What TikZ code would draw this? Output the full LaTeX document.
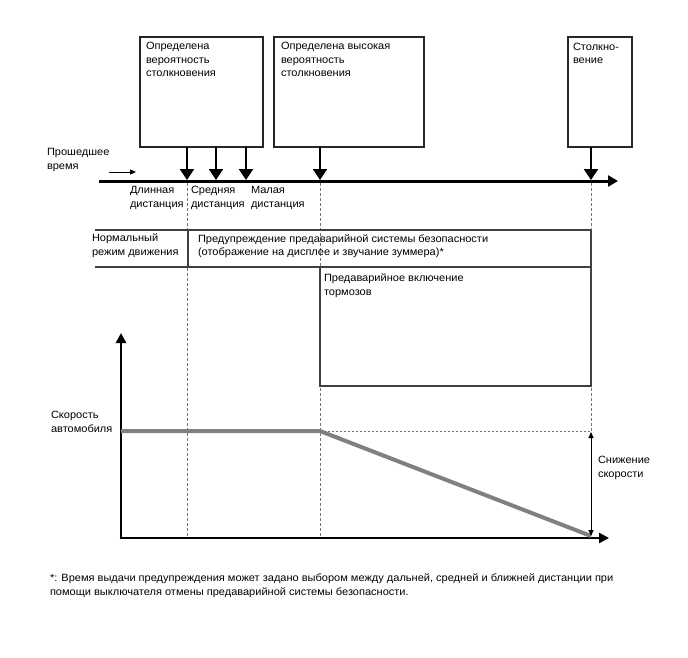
\documentclass[tikz,border=0pt]{standalone}
\usepackage{fontspec}
\setmainfont[FakeStretch=1.05]{Liberation Sans}
\usetikzlibrary{arrows.meta}
\begin{document}
\begin{tikzpicture}[x=1pt,y=-1pt,
  every node/.style={inner sep=0pt, outer sep=0pt, font=\fontsize{10.5}{13.3}\selectfont},
  txt/.style={anchor=base west, align=left},
  evbox/.style={draw=black!85, line width=1.2pt, anchor=north west},
  evarrow/.style={line width=2pt, -{Triangle[width=14pt,length=11pt]}},
  timeline/.style={line width=3pt, -{Triangle[width=11pt,length=10pt]}},
  guide/.style={draw=black!55, line width=0.7pt, dash pattern=on 3pt off 2pt},
  band/.style={draw=black!75, line width=1.2pt},
  axis/.style={line width=2.5pt, -{Triangle[width=10pt,length=10pt]}},
  speed/.style={draw=black!50, line width=4pt},
  thinarrow/.style={line width=1pt, -{Triangle[width=5pt,length=6pt]}},
  dbl/.style={line width=1pt, {Triangle[width=5pt,length=6pt]}-{Triangle[width=5pt,length=6pt]}},
]
\useasboundingbox (0,0) rectangle (688,658);

% event boxes
\node[evbox, minimum width=123pt, minimum height=110pt] (b1) at (140,37) {};
\node[evbox, minimum width=150pt, minimum height=110pt] (b2) at (274,37) {};
\node[evbox, minimum width=64pt, minimum height=110pt] (b3) at (568,37) {};
\node[txt] (b1t) at (146,76.5) {Определена\\вероятность\\столкновения};
\node[txt] (b2t) at (281,76.5) {Определена высокая\\вероятность\\столкновения};
\node[txt] (b3t) at (573,63.5) {Столкно-\\вение};

% timeline
\coordinate (tl0) at (99,181);
\coordinate (tl1) at (618,181);
\coordinate (t1) at (187,180);
\coordinate (t2) at (216,180);
\coordinate (t3) at (246,180);
\coordinate (t4) at (320,180);
\coordinate (t5) at (591,180);
\draw[timeline] (tl0) -- (tl1);
\draw[evarrow] (b1.south -| t1) -- (t1);
\draw[evarrow] (b1.south -| t2) -- (t2);
\draw[evarrow] (b1.south -| t3) -- (t3);
\draw[evarrow, fill=black!80] (b2.south -| t4) -- (t4);
\draw[evarrow] (b3.south -| t5) -- (t5);

\node[txt] (el) at (47,169) {Прошедшее\\время};
\coordinate (sa0) at (109,172);
\coordinate (sa1) at (136,172);
\draw[thinarrow] (sa0) -- (sa1);

\node[txt] (d1) at (130,207) {Длинная\\дистанция};
\node[txt] (d2) at (191,207) {Средняя\\дистанция};
\node[txt] (d3) at (251,207) {Малая\\дистанция};

% guides
\draw[guide] (187,183) -- (187,538);
\draw[guide] (320,183) -- (320,538);
\draw[guide] (591,183) -- (591,432);

% band
\draw[band] (95,230) -- (591,230);
\draw[band] (95,267) -- (591,267);
\draw[band] (188,230) -- (188,267);
\draw[band] (591,230) -- (591,386) -- (320,386) -- (320,267);
\node[txt] (nm) at (92,255) {Нормальный\\режим движения};
\node[txt] (wr) at (198,255.5) {Предупреждение предаварийной системы безопасности\\(отображение на дисплее и звучание зуммера)*};
\node[txt] (br) at (324,295) {Предаварийное включение\\тормозов};

% graph
\coordinate (o) at (121,538);
\coordinate (ytop) at (121,333);
\coordinate (xend) at (609,538);
\draw[axis] (121,539.25) -- (ytop);
\draw[axis] (119.75,538) -- (xend);
\coordinate (s0) at (121,431);
\coordinate (s1) at (320,431);
\coordinate (s2) at (591,536);
\draw[speed] (s0) -- (s1) -- (s2);
\coordinate (r1) at (591,431);
\draw[draw=black!55, line width=0.8pt, dash pattern=on 2pt off 2pt] (s1) -- (r1);
\coordinate (r0) at (591,536);
\draw[dbl] (591,432) -- (r0);
\node[txt] (sp) at (51,432) {Скорость\\автомобиля};
\node[txt] (dec) at (598,477) {Снижение\\скорости};

\node[txt] (fn) at (50,595) {*: Время выдачи предупреждения может задано выбором между дальней, средней и ближней дистанции при\\помощи выключателя отмены предаварийной системы безопасности.};
\end{tikzpicture}
\end{document}
